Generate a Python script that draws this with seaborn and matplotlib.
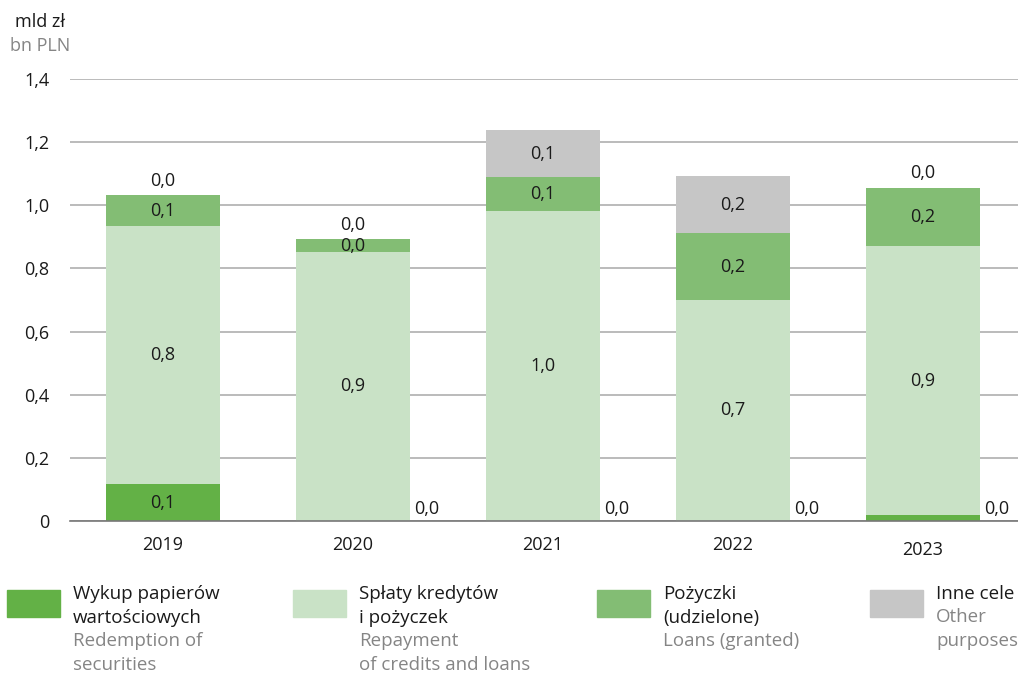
import numpy as np
import matplotlib
matplotlib.use("Agg")
import matplotlib.pyplot as plt
from matplotlib.patches import Rectangle
import seaborn as sns

# dane (mld zł)
lata = ["2019", "2020", "2021", "2022", "2023"]
wykup = [0.117, 0.0, 0.0, 0.0, 0.018]
splaty = [0.817, 0.852, 0.982, 0.700, 0.852]
pozyczki = [0.098, 0.041, 0.107, 0.211, 0.186]
inne = [0.0, 0.0, 0.149, 0.181, 0.0]

serie = [
    ("Wykup papierów\nwartościowych", "Redemption of\nsecurities", wykup, "#63b146"),
    ("Spłaty kredytów\ni pożyczek", "Repayment\nof credits and loans", splaty, "#c9e2c6"),
    ("Pożyczki\n(udzielone)", "Loans (granted)", pozyczki, "#83bd74"),
    ("Inne cele", "Other\npurposes", inne, "#c6c6c6"),
]

sns.set_theme(style="white")
plt.rcParams["font.family"] = ["Open Sans", "DejaVu Sans"]
CZARNY = "#1a1a1a"
SZARY = "#858585"

fig = plt.figure(figsize=(10.18, 6.73), dpi=100)
ax = fig.add_axes([0.0688, 0.2259, 0.9312, 0.6567])

dol = np.zeros(len(lata))
for pl, en, wart, kolor in serie:
    sns.barplot(x=lata, y=wart, bottom=dol.copy(), color=kolor, width=0.6,
                saturation=1, linewidth=0, edgecolor="none", ax=ax, zorder=2)
    dol = dol + np.array(wart)

# etykiety wartości
dol = np.zeros(len(lata))
for i_s, (pl, en, wart, kolor) in enumerate(serie):
    for i, v in enumerate(wart):
        txt = f"{v:.1f}".replace(".", ",")
        if i_s == 0 and v < 0.05:
            ax.text(i + 0.32, 0.038, txt, ha="left", va="center", fontsize=13, color=CZARNY)
        elif i_s == 3 and v == 0:
            ax.text(i, dol[i] + 0.045, txt, ha="center", va="center", fontsize=13, color=CZARNY)
        else:
            ax.text(i, dol[i] + v / 2, txt, ha="center", va="center", fontsize=13, color=CZARNY)
    dol = dol + np.array(wart)

ax.set_ylim(0, 1.4)
ax.set_xlim(-0.49, 4.5)
ticks = np.arange(0, 1.41, 0.2)
ax.set_yticks(ticks)
ax.set_yticklabels(["0"] + [f"{t:.1f}".replace(".", ",") for t in ticks[1:]])
ax.yaxis.grid(True, color="#a8a8a8", linewidth=1.1, zorder=0)
ax.set_axisbelow(True)
for s in ["top", "right", "left"]:
    ax.spines[s].set_visible(False)
ax.spines["bottom"].set_color("#777777")
ax.spines["bottom"].set_linewidth(1.2)
ax.tick_params(axis="y", length=0, pad=15, labelsize=13, labelcolor=CZARNY)
ax.tick_params(axis="x", length=0, pad=11, labelsize=13, labelcolor=CZARNY)
ax.xaxis.get_majorticklabels()[4].set_y(-0.01)
ax.set_xlabel("")
ax.set_ylabel("")

fig.text(15 / 1018, 1 - 22 / 673, "mld zł", fontsize=13, color=CZARNY, va="center", ha="left")
fig.text(10 / 1018, 1 - 46 / 673, "bn PLN", fontsize=13, color=SZARY, va="center", ha="left")

# legenda
leg_x = [7, 293, 597, 870]
for (pl, en, wart, kolor), x0 in zip(serie, leg_x):
    fig.add_artist(Rectangle((x0 / 1018, 1 - 617 / 673), 53 / 1018, 27 / 673,
                             transform=fig.transFigure, color=kolor))
    n_pl = pl.count("\n") + 1
    fig.text((x0 + 66) / 1018, 1 - 585 / 673, pl, fontsize=13.5, color=CZARNY,
             va="top", ha="left", linespacing=1.4)
    fig.text((x0 + 66) / 1018, 1 - (585 + 23.5 * n_pl) / 673, en, fontsize=13.5, color=SZARY,
             va="top", ha="left", linespacing=1.4)

fig.savefig("out.png", dpi=100)
